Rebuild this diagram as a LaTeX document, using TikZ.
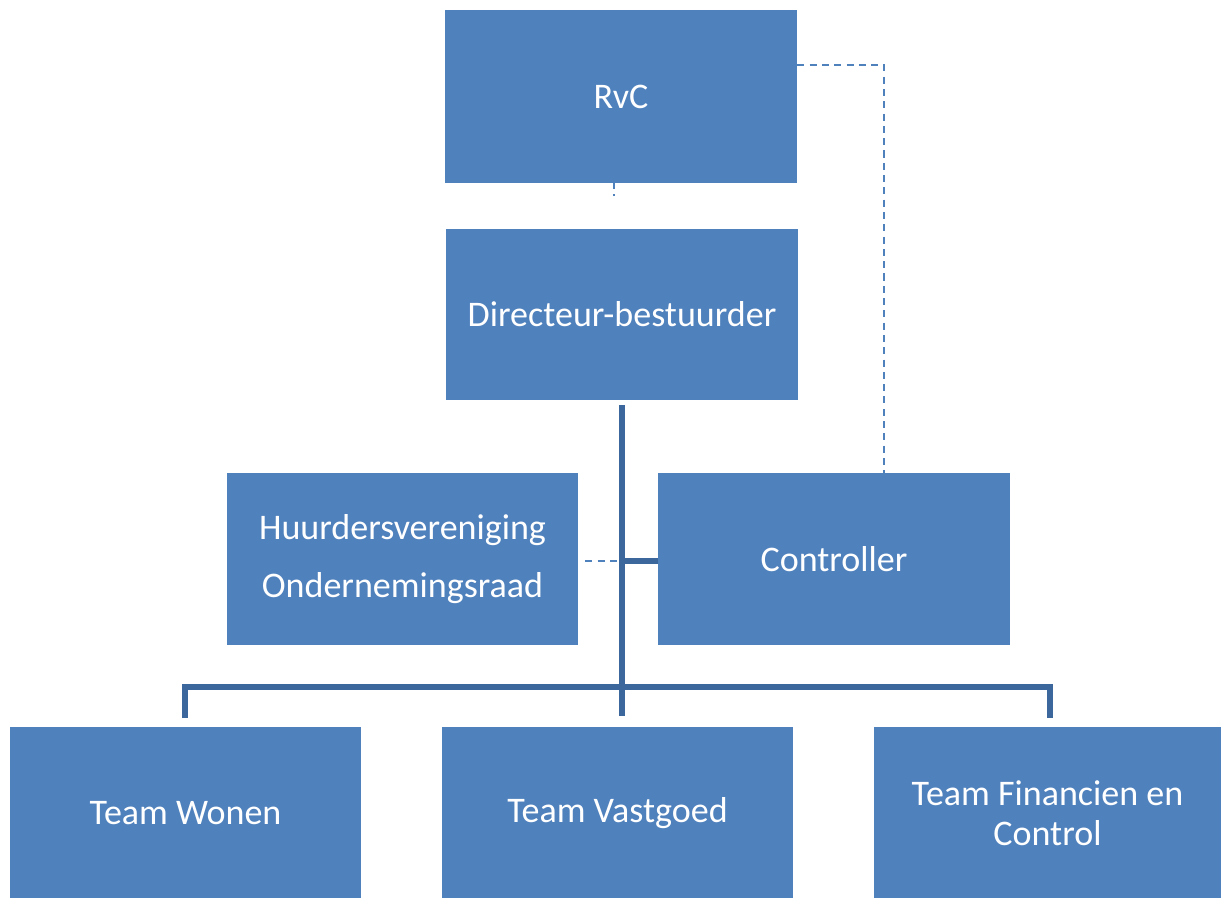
\documentclass[tikz,border=0pt]{standalone}
\usepackage{fontspec}
\setmainfont{Carlito}
\usetikzlibrary{positioning}

\definecolor{boxblue}{HTML}{4F81BD}
\definecolor{lineblue}{HTML}{3C679C}

\tikzset{
  unit/.style={rectangle, fill=boxblue, text=white, align=center,
    minimum width=7.02cm, minimum height=3.44cm, inner sep=0pt,
    font=\fontsize{20.5}{23}\selectfont},
  reports/.style={draw=lineblue, line width=3pt},
  advises/.style={draw=boxblue, line width=1pt, dash pattern=on 4pt off 3pt}
}

\begin{document}
\begin{tikzpicture}[x=0.02cm, y=-0.02cm]
  \useasboundingbox (0,0) rectangle (1221,898);

  \node (rvc)  [unit, minimum width=7.04cm, minimum height=3.46cm] at (621,96.5) {RvC};
  \node (dir)  [unit, minimum width=7.04cm, minimum height=3.42cm] at (622,314.5) {Directeur-bestuurder};
  \node (hv)   [unit] at (402.5,559) {Huurdersvereniging\\[10pt]Ondernemingsraad};
  \node (ctrl) [unit, minimum width=7.04cm] at (834,559) {Controller};
  \node (won)  [unit] at (185.5,813) {Team Wonen};
  \node (vast) [unit] at (617.5,813) {Team Vastgoed};
  \node (fin)  [unit, minimum width=6.94cm] at (1047.5,813) {Team Financien en\\Control};

  \coordinate (hub)    at (622,561);
  \coordinate (split)  at (622,687);
  \coordinate (rvcin)  at (614,145);
  \coordinate (rvcout) at (614,196);
  \coordinate (ctrlup) at (884,65);

  % hierarchy lines
  \draw [reports] (622,405) -- (hub) -- (split) -- (622,716);
  \draw [reports] (hub) -- (ctrl.west |- hub);
  \draw [reports] (185,718) -- (185,687) -- (1050,687) -- (1050,718);

  % advisory lines
  \draw [advises] (hv.east |- hub) ++(7,0) -- (hub);
  \draw [advises] (rvc.east |- ctrlup) -- (ctrlup) -- (ctrlup |- ctrl.north);
  \draw [advises] (rvcin) -- (rvcout);
\end{tikzpicture}
\end{document}
